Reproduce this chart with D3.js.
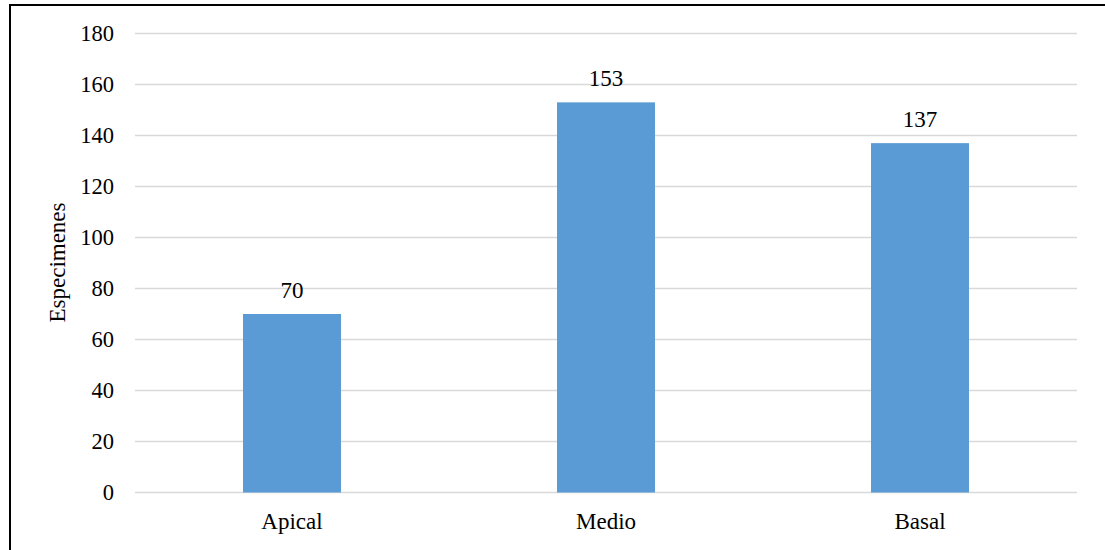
<!DOCTYPE html>
<html><head><meta charset="utf-8">
<script src="https://cdn.jsdelivr.net/npm/d3@7"></script>
<style>body{margin:0;background:#fff}svg{display:block}text{font-family:"Liberation Serif","Times New Roman",serif;fill:#000}</style>
</head><body>
<svg id="c" width="1105" height="550"></svg>
<script>
const categories = ["Apical","Medio","Basal"];
const values = [70,153,137];
const yTicks = [0,20,40,60,80,100,120,140,160,180];
const yTitle = "Especimenes";

const svg = d3.select("#c");
svg.append("rect").attr("x",10).attr("y",5).attr("width",1105).attr("height",560)
  .attr("fill","none").attr("stroke","#000").attr("stroke-width",2);

const L=135,R=1077,T=33.5,B=492.5;
const x = d3.scaleBand().domain(categories).range([L,R]).paddingInner(0).paddingOuter(0);
const y = d3.scaleLinear().domain([0,180]).range([B,T]);
const bw = x.bandwidth()*0.312;

const g = svg.append("g");
g.selectAll("line.grid").data(yTicks).join("line").attr("class","grid")
  .attr("x1",L).attr("x2",R).attr("y1",d=>y(d)).attr("y2",d=>y(d))
  .attr("stroke","#D9D9D9").attr("stroke-width",1.3);

g.selectAll("text.yt").data(yTicks).join("text").attr("class","yt")
  .attr("x",114).attr("y",d=>y(d)).attr("dy","0.35em").attr("text-anchor","end")
  .attr("font-size",22.5).text(d=>d);

g.selectAll("rect.bar").data(values).join("rect").attr("class","bar")
  .attr("x",(d,i)=>x(categories[i])+x.bandwidth()/2-bw/2).attr("width",bw)
  .attr("y",d=>y(d)).attr("height",d=>B-y(d)).attr("fill","#5B9BD5");

g.selectAll("text.vl").data(values).join("text").attr("class","vl")
  .attr("x",(d,i)=>x(categories[i])+x.bandwidth()/2).attr("y",d=>y(d)-16.5)
  .attr("text-anchor","middle").attr("font-size",23).text(d=>d);

g.selectAll("text.xl").data(categories).join("text").attr("class","xl")
  .attr("x",d=>x(d)+x.bandwidth()/2).attr("y",529)
  .attr("text-anchor","middle").attr("font-size",23).text(d=>d);

svg.append("text").attr("transform","translate(65,262.5) rotate(-90)")
  .attr("text-anchor","middle").attr("font-size",23).text(yTitle);
</script>
</body></html>
